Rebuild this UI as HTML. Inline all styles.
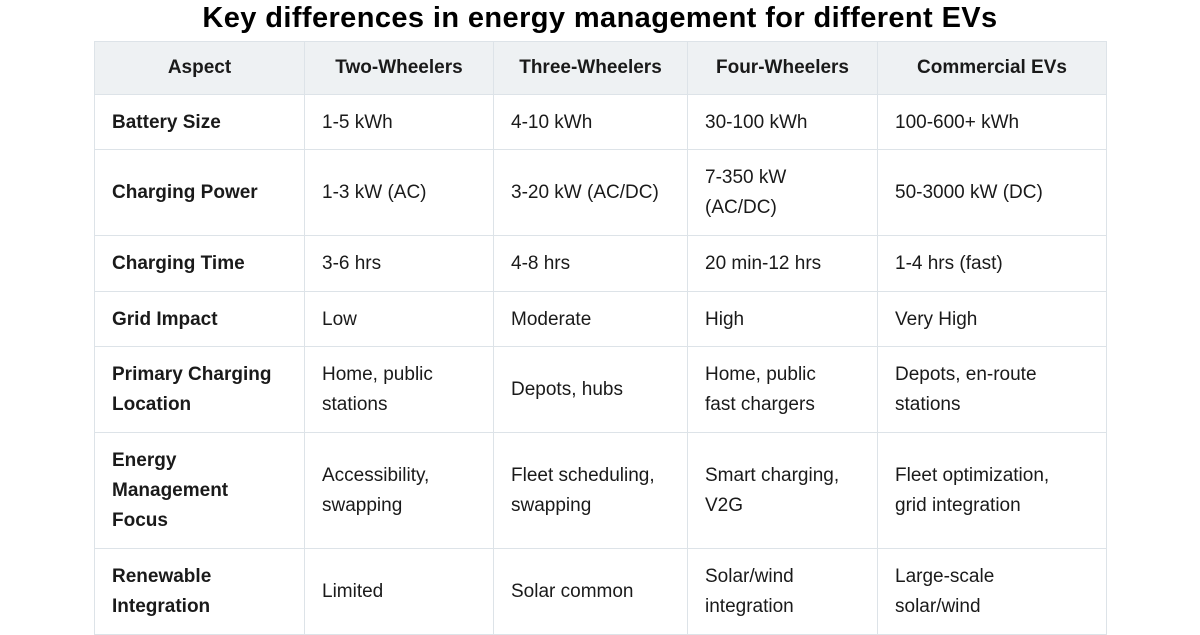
<!DOCTYPE html>
<html><head><meta charset="utf-8"><style>
body{margin:0;width:1200px;height:630px;background:#fff;overflow:hidden;font-family:"Liberation Sans",sans-serif;color:#1a1a1a;position:relative}
h1{position:absolute;top:0;left:0;width:1200px;margin:0;text-align:center;font-size:29px;line-height:36px;font-weight:bold;color:#000;letter-spacing:0.4px}
table{position:absolute;left:94px;top:41px;border-collapse:collapse;table-layout:fixed}
td,th{border:1px solid #dde3e8;padding:1px 16px 0 17px;font-size:19px;line-height:30px;text-align:left;vertical-align:middle}
th{background:#eef1f3;text-align:center;font-weight:bold;height:52px;padding:0}
td:first-child{font-weight:bold}
</style></head><body>
<h1>Key differences in energy management for different EVs</h1>
<table>
<colgroup><col style="width:210px"><col style="width:189px"><col style="width:194px"><col style="width:190px"><col style="width:229px"></colgroup>
<tr><th>Aspect</th><th>Two-Wheelers</th><th>Three-Wheelers</th><th>Four-Wheelers</th><th>Commercial EVs</th></tr>
<tr style="height:55px"><td>Battery Size</td><td>1-5 kWh</td><td>4-10 kWh</td><td>30-100 kWh</td><td>100-600+ kWh</td></tr>
<tr style="height:86px"><td>Charging Power</td><td>1-3 kW (AC)</td><td>3-20 kW (AC/DC)</td><td>7-350 kW<br>(AC/DC)</td><td>50-3000 kW (DC)</td></tr>
<tr style="height:56px"><td>Charging Time</td><td>3-6 hrs</td><td>4-8 hrs</td><td>20 min-12 hrs</td><td>1-4 hrs (fast)</td></tr>
<tr style="height:55px"><td>Grid Impact</td><td>Low</td><td>Moderate</td><td>High</td><td>Very High</td></tr>
<tr style="height:86px"><td>Primary Charging<br>Location</td><td>Home, public<br>stations</td><td>Depots, hubs</td><td>Home, public<br>fast chargers</td><td>Depots, en-route<br>stations</td></tr>
<tr style="height:116px"><td>Energy<br>Management<br>Focus</td><td>Accessibility,<br>swapping</td><td>Fleet scheduling,<br>swapping</td><td>Smart charging,<br>V2G</td><td>Fleet optimization,<br>grid integration</td></tr>
<tr style="height:86px"><td>Renewable<br>Integration</td><td>Limited</td><td>Solar common</td><td>Solar/wind<br>integration</td><td>Large-scale<br>solar/wind</td></tr>
</table>
</body></html>
